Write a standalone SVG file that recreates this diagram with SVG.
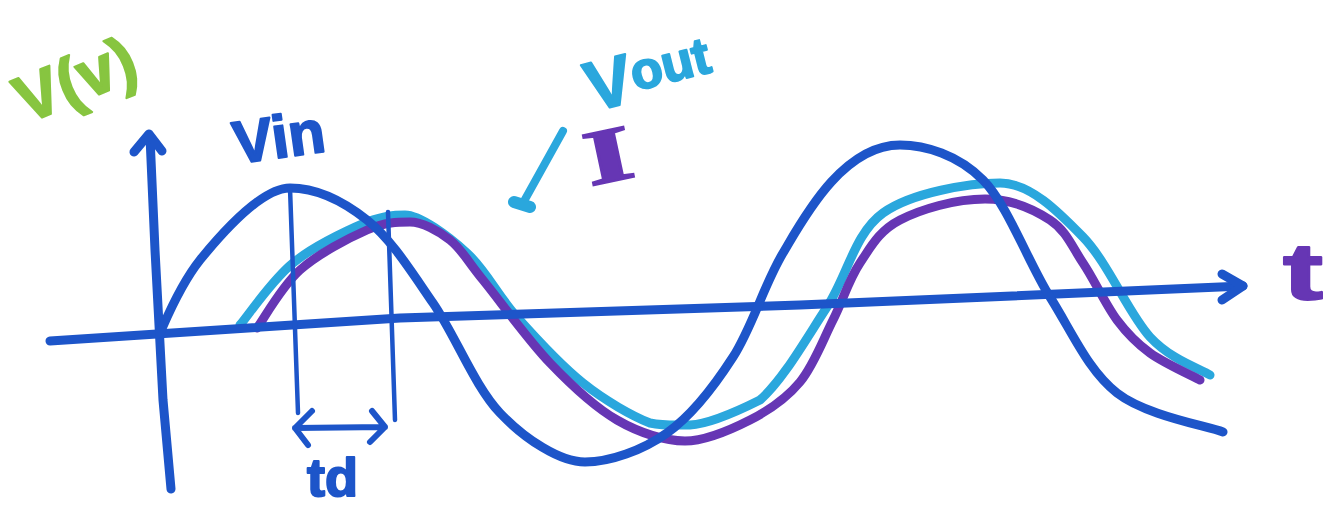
<svg xmlns="http://www.w3.org/2000/svg" width="1332" height="506" viewBox="0 0 1332 506">
<style>
.ln{fill:none;stroke-linecap:round;stroke-linejoin:round}
.blue{stroke:#1d55c9}
.cyan{stroke:#2aa7dd}
.purple{stroke:#6636b4}
.thick{stroke-width:9}
.thin{stroke-width:4.5}
.mid{stroke-width:6}
.lbl{font-family:"Liberation Sans",Arial,sans-serif;font-weight:bold;stroke-linejoin:round;stroke-width:2}
</style>
<rect width="1332" height="506" fill="#ffffff"/>
<g id="curves">
<path id="vout" class="ln cyan thick" d="M240,325 C248.8,314.7 271.8,280.2 293,263 C314.2,245.8 348.3,230 367,222 C385,216 392,215 405,215 C420,215 448.3,236 467,253 C485.7,270 497.7,295.3 517,317 C536.3,338.7 560.8,365.3 583,383 C605.2,400.7 632.2,416 650,423 C665,426 677,425 690,425 C710,424 740,410 760,400 C783,380 806.5,338.2 827,307 C847.5,275.8 854.2,233.7 883,213 C911.8,192.3 970,183 1000,183 C1030,183 1058,211.3 1083,237 C1108,262.7 1128.8,314 1150,337 C1171.2,360 1200,368.7 1210,375"/>
<path id="i-curve" class="ln purple thick" d="M257,328 C264.2,318.3 281.7,286.3 300,270 C318.3,253.7 348.7,238 367,230 C385.3,222 398,222 410,222 C422,222 437.8,230.3 450,240 C462.2,249.7 466.3,259.5 483,280 C499.7,300.5 527.7,339.7 550,363 C572.3,386.3 594.5,407 617,420 C639.5,433 665,441 685,441 C705,441 730.8,429.8 750,420 C769.2,410.2 786.2,398.7 800,382 C813.8,365.3 823,339.8 833,320 C843,300.2 848.8,279.7 860,263 C871.2,246.3 879.2,230.7 900,220 C920.8,209.3 955,199 985,199 C1012,199 1033.7,209.3 1050,220 C1066.3,230.7 1071.8,246.3 1083,263 C1094.2,279.7 1105.8,305 1117,320 C1128.2,335 1136.2,343 1150,353 C1163.8,363 1191.7,375.5 1200,380"/>
</g>
<g id="axes">
<path id="y-axis" class="ln blue thick" d="M150,137 L155,250 L163,400 L171,489"/>
<path id="y-arrow" class="ln blue thick" d="M134,152 L149,134 L162,151"/>
<path id="x-axis" class="ln blue thick" d="M50,341 L400,318 L800,305 L1243,286"/>
<path id="x-arrow" class="ln blue thick" d="M1222,274 L1243,286 L1222,300"/>
</g>
<g id="vin-curve">
<path id="vin" class="ln blue thick" d="M160,333 C166.7,318 180,285 200,260 C222,233 262,188 290,188 C318,188 342.8,200.8 367,220 C391.2,239.2 410.8,270.8 433,303 C455.2,335.2 474.7,386.5 500,413 C525.3,439.5 560,462 585,462 C610,462 642.3,450.5 667,433 C691.7,415.5 713.7,387 733,357 C752.3,327 763.5,285.8 783,253 C802.5,220.2 842,145 900,145 C925,145 958,154.7 983,180 C1008,205.3 1027.7,261.5 1050,297 C1072.3,332.5 1088.2,370.5 1117,393 C1145.8,415.5 1205.3,425.5 1223,432"/>
</g>
<g id="td-marker">
<path class="ln blue thin" d="M290,188 L298,413"/>
<path class="ln blue thin" d="M388,212 L395,420"/>
<path class="ln blue mid" d="M295,428 L385,427 M312,411 L295,428 L308,445 M372,411 L385,427 L370,442"/>
</g>
<g id="vout-pointer">
<path class="ln cyan" stroke-width="8" d="M563,131 L523,203"/>
<path class="ln cyan" stroke-width="12" d="M514,202 L530,207"/>
</g>
<g id="labels">
<text class="lbl" x="26" y="124" font-size="66" fill="#87c540" stroke="#87c540" transform="rotate(-22 26 124)">V(v)</text>
<text class="lbl" x="236" y="164" font-size="60" fill="#1d55c9" stroke="#1d55c9" transform="rotate(-8 236 164)">Vin</text>
<text class="lbl" x="592" y="112" fill="#2aa7dd" stroke="#2aa7dd" transform="rotate(-14 592 112)"><tspan font-size="70">V</tspan><tspan font-size="52" dy="-10">out</tspan></text>
<text x="0" y="0" font-family="'Liberation Serif','Times New Roman',serif" font-weight="bold" font-size="78" fill="#6636b4" stroke="#6636b4" stroke-width="2" transform="translate(590 186) rotate(-12) scale(1.6 1)">I</text>
<text class="lbl" x="0" y="0" font-size="80" fill="#6636b4" stroke="#6636b4" transform="translate(1283 299) scale(1.5 1)">t</text>
<text class="lbl" x="307" y="496" font-size="54" fill="#1d55c9" stroke="#1d55c9">td</text>
</g>
</svg>
